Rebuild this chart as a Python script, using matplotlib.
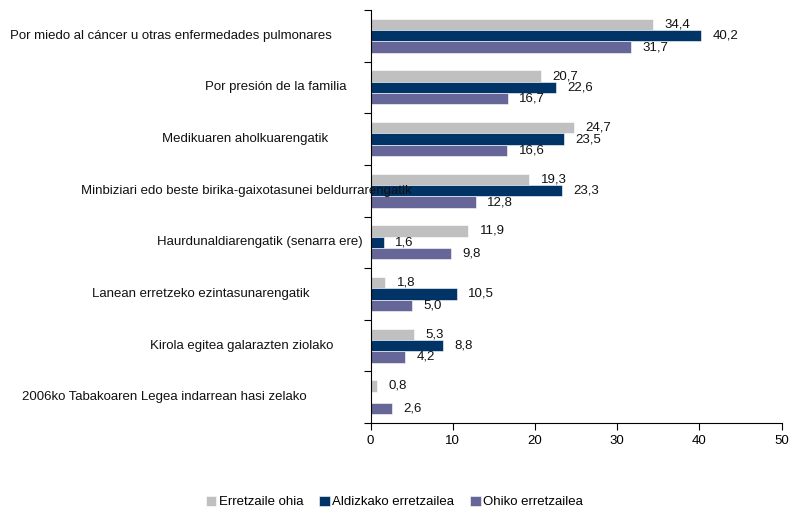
import numpy as np
import matplotlib.pyplot as plt
import matplotlib.transforms as mtransforms

plt.rcParams['font.family'] = ['Liberation Sans', 'DejaVu Sans']

# Datos
categorias = [
    'Por miedo al cáncer u otras enfermedades pulmonares',
    'Por presión de la familia',
    'Medikuaren aholkuarengatik',
    'Minbiziari edo beste birika-gaixotasunei beldurrarengatik',
    'Haurdunaldiarengatik (senarra ere)',
    'Lanean erretzeko ezintasunarengatik',
    'Kirola egitea galarazten ziolako',
    '2006ko Tabakoaren Legea indarrean hasi zelako',
]
erretzaile_ohia = [34.4, 20.7, 24.7, 19.3, 11.9, 1.8, 5.3, 0.8]
aldizkako = [40.2, 22.6, 23.5, 23.3, 1.6, 10.5, 8.8, 0.0]
ohiko = [31.7, 16.7, 16.6, 12.8, 9.8, 5.0, 4.2, 2.6]
series = ['Erretzaile ohia', 'Aldizkako erretzailea', 'Ohiko erretzailea']
colores = ['#C0C0C0', '#003366', '#666699']

# posición izquierda de cada etiqueta de categoría (px)
label_x = [10, 205, 162, 81, 157, 92, 150, 22]

fig = plt.figure(figsize=(7.89, 5.12), dpi=100)
ax = fig.add_axes([370.5 / 789, 89 / 512, 411 / 789, 413 / 512])

n = len(categorias)
y = np.arange(n)
h = 0.22
valores = [erretzaile_ohia, aldizkako, ohiko]
for i, (vals, col, name) in enumerate(zip(valores, colores, series)):
    pos = y + (i - 1) * h
    bars = ax.barh(pos, vals, height=h, color=col, label=name,
                   edgecolor='white', linewidth=0.4)
    for p, v in zip(pos, vals):
        if v > 0:
            ax.text(v + 1.4, p, f'{v:.1f}'.replace('.', ','),
                    va='center', ha='left', fontsize=9.5, color='#111111')

ax.set_xlim(0, 50)
ax.set_ylim(n - 0.5, -0.5)
ax.set_xticks(range(0, 51, 10))
ax.set_yticks(np.arange(-0.5, n, 1))
ax.set_yticklabels([])
ax.tick_params(axis='x', direction='out', length=5, labelsize=9.5, pad=4)
ax.tick_params(axis='y', direction='out', length=5)
for s in ['top', 'right']:
    ax.spines[s].set_visible(False)

trans = mtransforms.blended_transform_factory(fig.transFigure, ax.transData)
for yi, txt, lx in zip(y, categorias, label_x):
    ax.text(lx / 789, yi, txt, transform=trans, ha='left', va='center',
            fontsize=9.5, color='#111111', clip_on=False)

fig.legend(loc='center', bbox_to_anchor=(0.5, 10 / 512), ncol=3, frameon=False,
           fontsize=9.5, handlelength=0.8, handleheight=0.8, handletextpad=0.2,
           columnspacing=1.2)

fig.savefig('out.png', dpi=100)
